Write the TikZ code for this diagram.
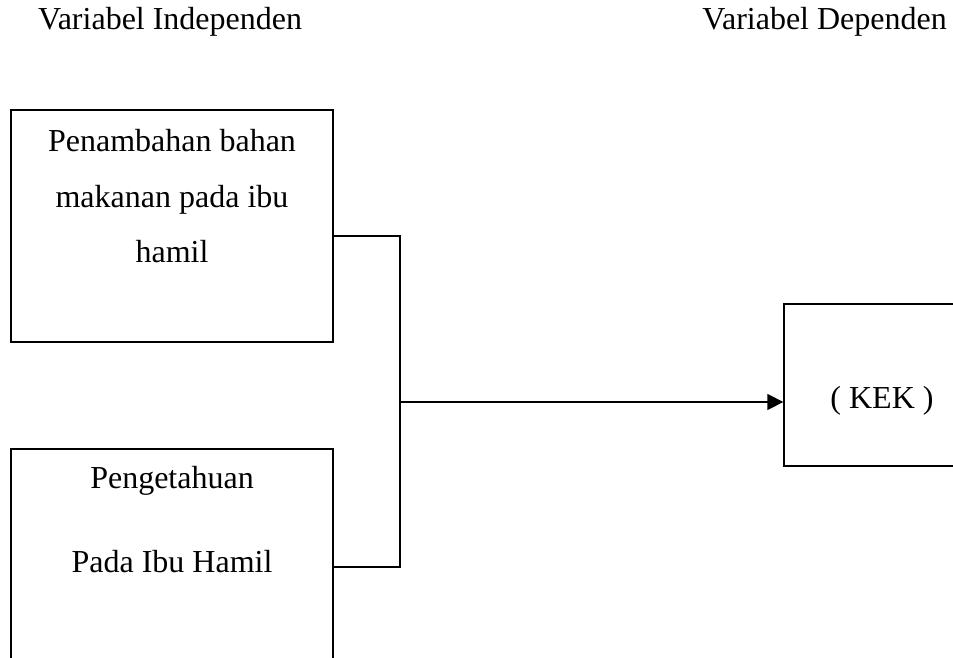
\documentclass[tikz,border=0pt]{standalone}
\usepackage{fontspec}
\setmainfont{Liberation Serif}
\usetikzlibrary{arrows.meta}
\begin{document}
\begin{tikzpicture}[x=1pt,y=-1pt,
  boxstyle/.style={draw=black,line width=1.3pt,rectangle,inner sep=0pt},
  txt/.style={inner sep=0pt,anchor=base,font=\fontsize{32}{38}\selectfont},
  conn/.style={draw=black,line width=1.3pt}]
\useasboundingbox (0,0) rectangle (953,658);
\clip (0,0) rectangle (953,658);
\fill[white] (0,0) rectangle (953,658);
% titles
\node[txt,anchor=base west] (t1) at (38,30) {Variabel Independen};
\node[txt,anchor=base east] (t2) at (947,30) {Variabel Dependen};
% boxes
\node[boxstyle,minimum width=322pt,minimum height=232pt] (b1) at (172,226) {};
\node[boxstyle,minimum width=322pt,minimum height=251pt] (b2) at (172,574.5) {};
\node[boxstyle,minimum width=216pt,minimum height=162pt] (b3) at (892,385) {};
% texts
\node[txt] (l1) at (172,151) {Penambahan bahan};
\node[txt] (l2) at (172,207) {makanan pada ibu};
\node[txt] (l3) at (172,262) {hamil};
\node[txt] (l4) at (172,488) {Pengetahuan};
\node[txt] (l5) at (172,572) {Pada Ibu Hamil};
\node[txt] (k) at (882,408) {( KEK )};
% connectors
\coordinate (j1) at (400,236);
\coordinate (j2) at (400,567);
\coordinate (jm) at (400,402);
\draw[conn] (b1.east |- j1) -- (j1) -- (j2) -- (b2.east |- j2);
\draw[conn,-{Triangle[length=16pt,width=16pt]}] (jm) -- (b3.west |- jm);
\end{tikzpicture}
\end{document}
